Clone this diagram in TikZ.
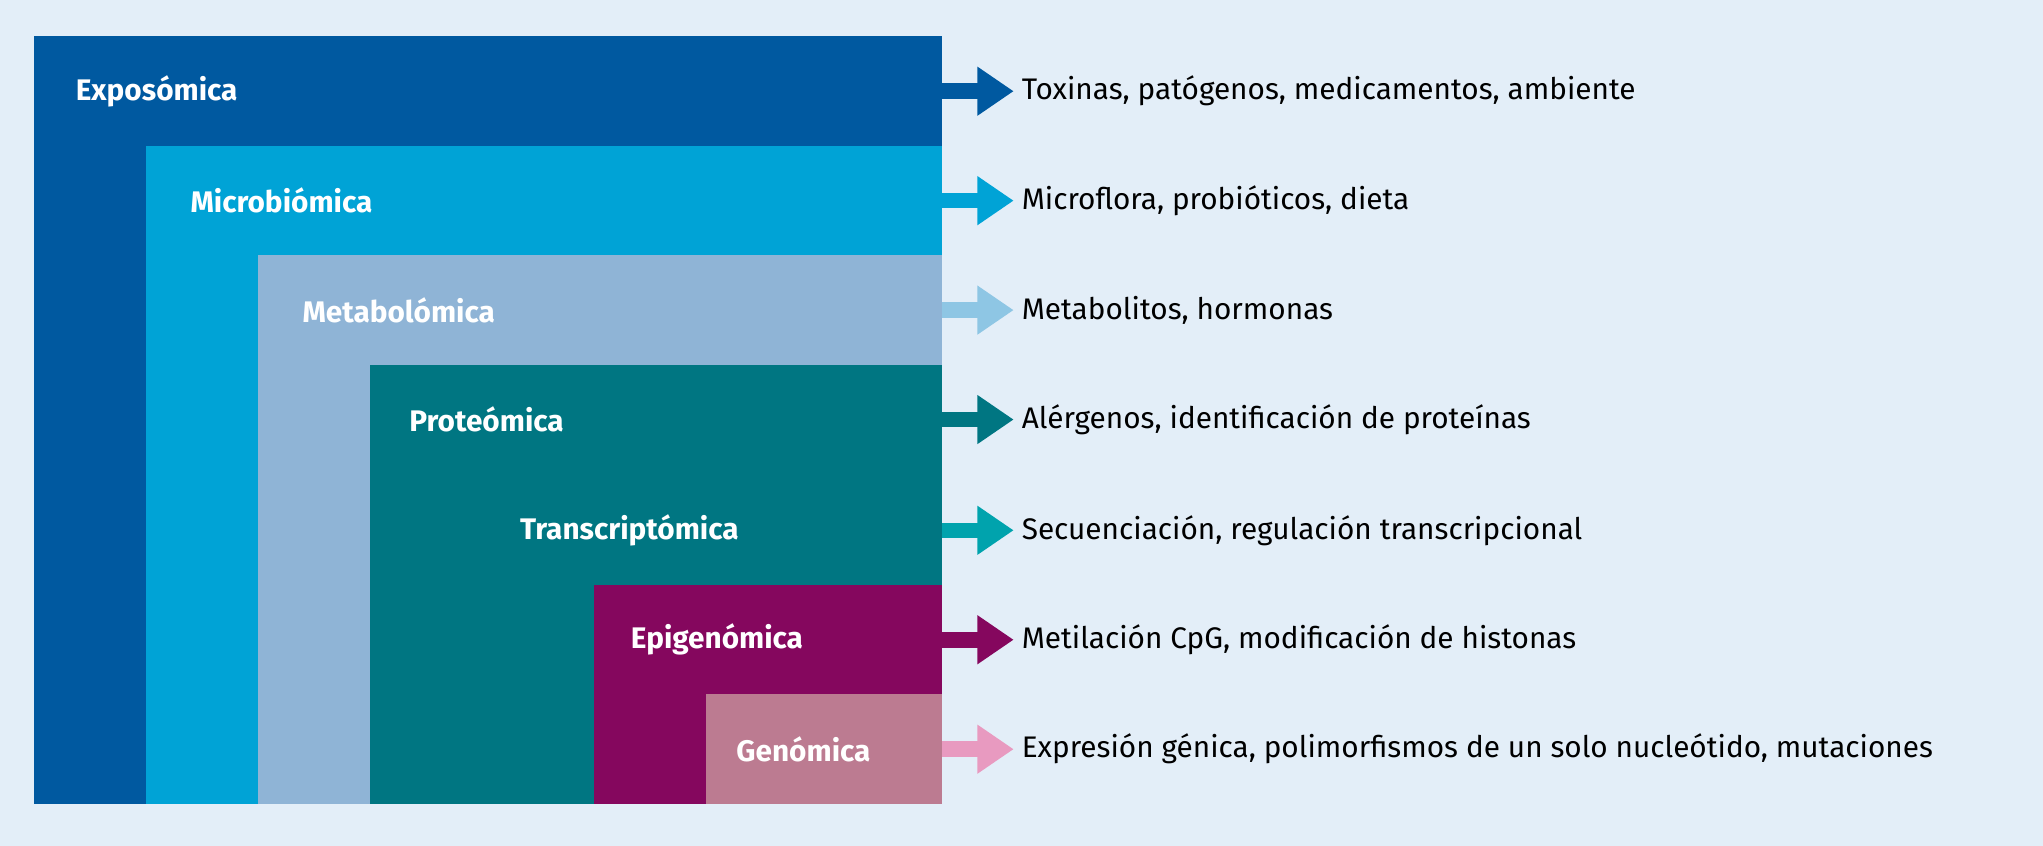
\documentclass[tikz,border=0pt]{standalone}
\usepackage{fontspec}
\setmainfont{Fira Sans}
\usetikzlibrary{arrows.meta}
\definecolor{bg}{HTML}{E3EEF8}
\definecolor{cA}{HTML}{0059A0}
\definecolor{cB}{HTML}{00A3D6}
\definecolor{cC}{HTML}{8FB4D6}
\definecolor{cD}{HTML}{007682}
\definecolor{cE}{HTML}{00A3AD}
\definecolor{cF}{HTML}{85075E}
\definecolor{cG}{HTML}{BC7B91}
\definecolor{cGa}{HTML}{E89AC0}
\definecolor{cCa}{HTML}{8EC6E4}
\tikzset{
 lab/.style={font=\bfseries\fontsize{13}{15}\selectfont, text=white, anchor=west},
 desc/.style={font=\fontsize{13}{15}\selectfont, anchor=west, text=black},
 arr/.style={line width=6.8pt, -{Triangle[length=15.9pt,width=20.4pt]}, shorten >=0pt}
}
\begin{document}
\begin{tikzpicture}[x=0.02cm,y=-0.02cm]
\fill[bg] (0,0) rectangle (1568,649);
\useasboundingbox (0,0) rectangle (1568,649);
\fill[cA] (26,28) rectangle (723,617);
\fill[cB] (112,112) rectangle (723,617);
\fill[cC] (198,196) rectangle (723,617);
\fill[cD] (284,280) rectangle (723,617);
\fill[cF] (456,449) rectangle (723,617);
\fill[cG] (542,533) rectangle (723,617);
\node[lab] (lA) at (52,70) {Exposómica};
\node[lab] (lB) at (140,154) {Microbiómica};
\node[lab] (lC) at (226,238) {Metabolómica};
\node[lab] (lD) at (308,322) {Proteómica};
\node[lab] (lE) at (393,407) {Transcriptómica};
\node[lab] (lF) at (478,491) {Epigenómica};
\node[lab] (lG) at (559,575) {Genómica};
\foreach \y/\c/\t/\n in {70/cA/{Toxinas, patógenos, medicamentos, ambiente}/a,
 154/cB/{Microflora, probióticos, dieta}/b,
 238/cCa/{Metabolitos, hormonas}/c,
 322/cD/{Alérgenos, identificación de proteínas}/d,
 407/cE/{Secuenciación, regulación transcripcional}/e,
 491/cF/{Metilación CpG, modificación de histonas}/f,
 575/cGa/{Expresión génica, polimorfismos de un solo nucleótido, mutaciones}/g}{
 \coordinate (s\n) at (723,\y);
 \node[desc] (t\n) at (778,\y) {\t};
 \draw[arr,\c] (s\n) -- (t\n.west);
}
\end{tikzpicture}
\end{document}
